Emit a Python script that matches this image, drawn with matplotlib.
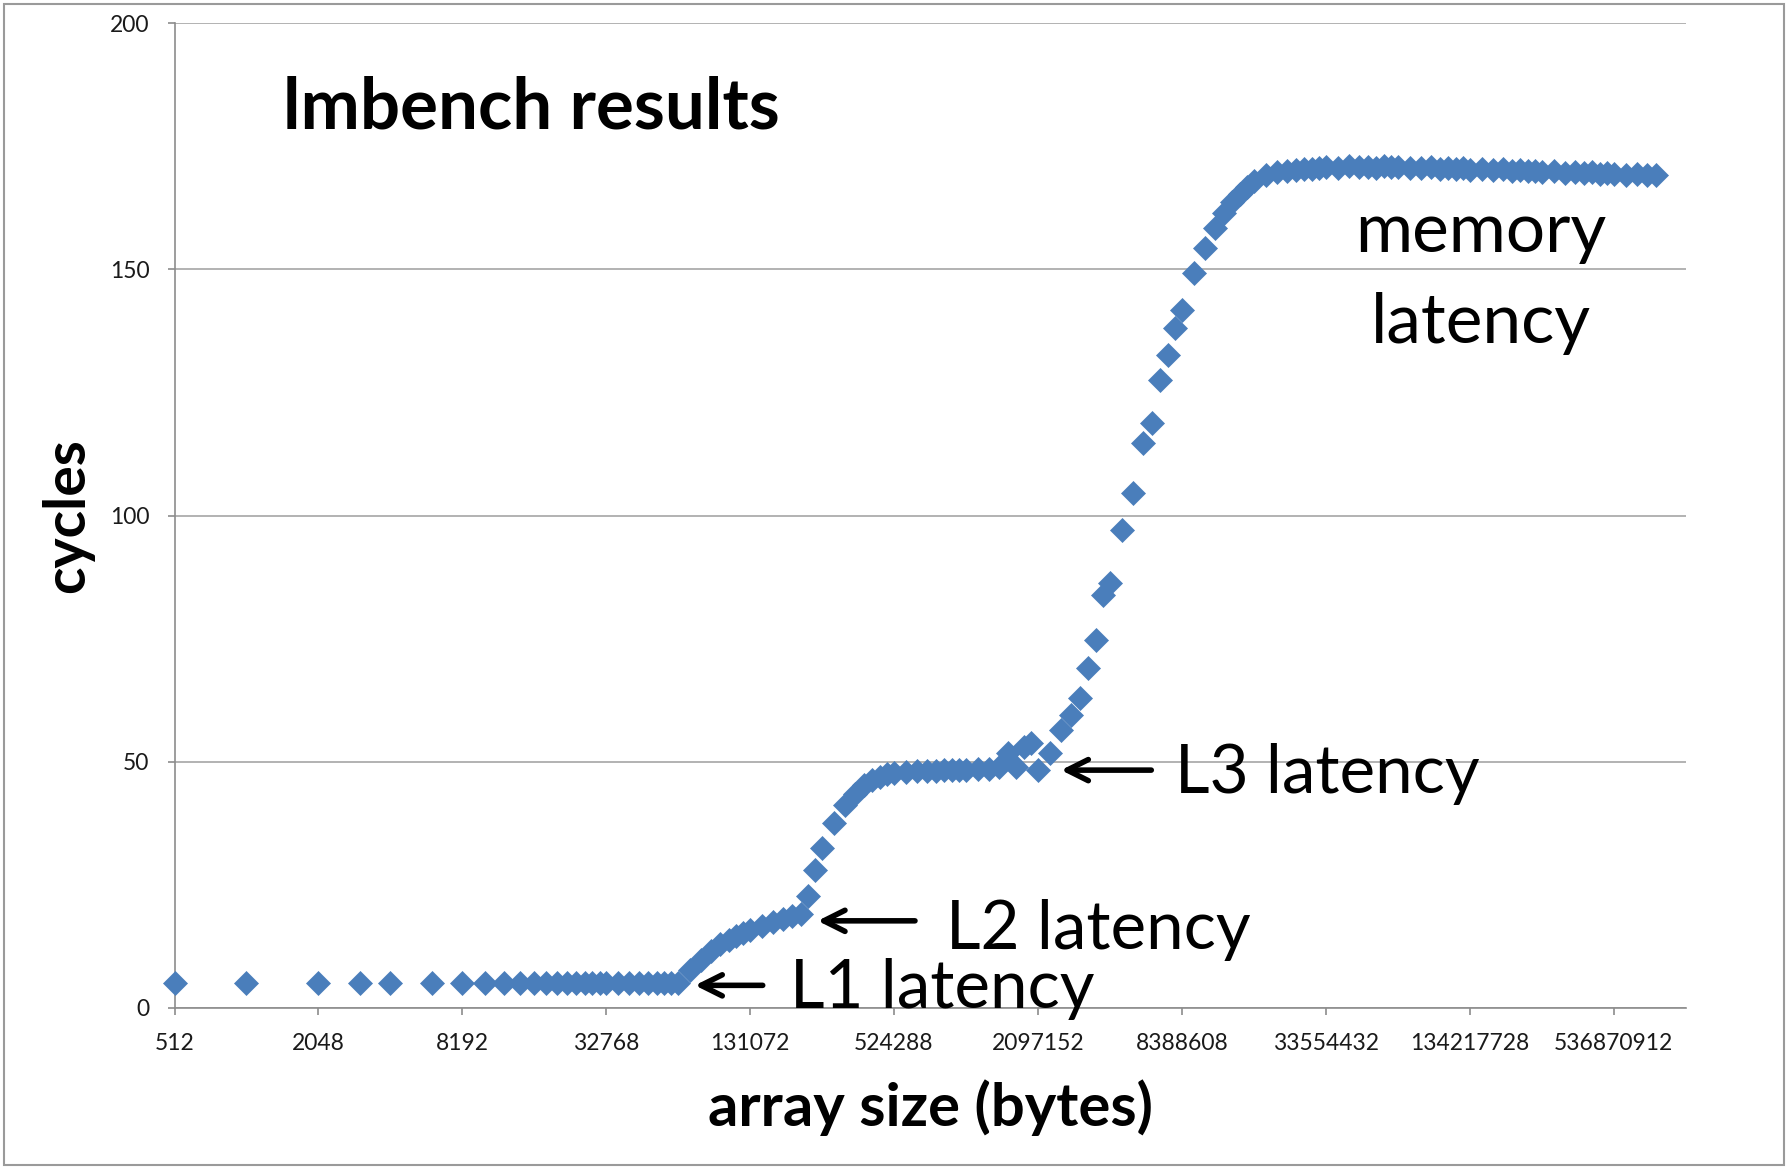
import matplotlib
matplotlib.use('Agg')
import matplotlib.pyplot as plt
from matplotlib.patches import Rectangle
from matplotlib.ticker import NullLocator

plt.rcParams['font.family'] = ['Lato', 'DejaVu Sans']

# array sizes in KB (lmbench lat_mem_rd steps), one row per octave
sizes_kb = [
    0.5, 1, 2, 3, 4, 6, 8, 10, 12, 14, 16, 18, 20, 22, 24, 26, 28, 30,
    32, 36, 40, 44, 48, 52, 56, 60,
    64, 72, 80, 88, 96, 104, 112, 120,
    128, 144, 160, 176, 192, 208, 224, 240,
    256, 288, 320, 352, 384, 416, 448, 480,
    512, 576, 640, 704, 768, 832, 896, 960,
    1024, 1152, 1280, 1408, 1536, 1664, 1792, 1920,
    2048, 2304, 2560, 2816, 3072, 3328, 3584, 3840,
    4096, 4608, 5120, 5632, 6144, 6656, 7168, 7680,
    8192, 9216, 10240, 11264, 12288, 13312, 14336, 15360,
    16384, 18432, 20480, 22528, 24576, 26624, 28672, 30720,
    32768, 36864, 40960, 45056, 49152, 53248, 57344, 61440,
    65536, 73728, 81920, 90112, 98304, 106496, 114688, 122880,
    131072, 147456, 163840, 180224, 196608, 212992, 229376, 245760,
    262144, 294912, 327680, 360448, 393216, 425984, 458752, 491520,
    524288, 589824, 655360, 720896, 786432,
]

# measured latency (cycles), same rows as sizes_kb
cycles = [
    5.0, 5.0, 5.0, 5.0, 5.0, 5.0, 5.0, 5.0, 5.0, 5.0, 5.0, 5.0, 5.0, 5.0, 5.0, 5.0, 5.0, 5.0,
    5.0, 5.0, 5.0, 5.0, 5.0, 5.0, 5.0, 5.0,
    5.0, 7.7, 9.8, 11.6, 12.9, 13.9, 14.7, 15.3,
    15.8, 16.7, 17.5, 18.1, 18.6, 19.0, 22.8, 28.0,
    32.5, 37.5, 41.2, 43.5, 45.2, 46.3, 47.0, 47.5,
    47.8, 48.0, 48.1, 48.2, 48.2, 48.3, 48.3, 48.3,
    48.4, 48.5, 48.6, 49.0, 51.8, 49.0, 53.0, 53.8,
    48.3, 51.8, 56.4, 59.5, 62.9, 69.0, 74.7, 83.9,
    86.3, 97.0, 104.6, 114.7, 118.8, 127.5, 132.6, 138.0,
    141.7, 149.2, 154.3, 158.4, 161.4, 163.6, 165.3, 166.8,
    167.9, 169.1, 169.7, 170.0, 170.2, 170.3, 170.4, 170.5,
    170.8, 170.6, 170.9, 170.7, 170.8, 170.6, 170.9, 170.7,
    170.8, 170.6, 170.5, 170.7, 170.4, 170.6, 170.3, 170.5,
    170.2, 170.4, 170.1, 170.3, 170.0, 170.2, 169.9, 170.0,
    169.8, 169.9, 169.6, 169.8, 169.5, 169.7, 169.4, 169.5,
    169.4, 169.2, 169.4, 169.1, 169.2,
]

x_ticks = [512, 2048, 8192, 32768, 131072, 524288, 2097152, 8388608,
           33554432, 134217728, 536870912]
y_ticks = [0, 50, 100, 150, 200]

blue = '#4a7ebb'
grid_gray = '#a6a6a6'

fig = plt.figure(figsize=(17.88, 11.69), dpi=100)
ax = fig.add_axes([174.5 / 1788, 1 - 1008 / 1169, 1511 / 1788, 985 / 1169])

sizes = [s * 1024 for s in sizes_kb]
ax.plot(sizes, cycles, linestyle='none', marker='D', markersize=12.5,
        color=blue, markeredgecolor=blue, markeredgewidth=0.5, clip_on=False, zorder=3)

ax.set_xscale('log', base=2)
ax.set_xlim(512, 2 ** 30)
ax.set_ylim(0, 200)
ax.set_xticks(x_ticks)
ax.set_xticklabels([str(t) for t in x_ticks])
ax.xaxis.set_minor_locator(NullLocator())
ax.set_yticks(y_ticks)

ax.yaxis.grid(True, color=grid_gray, linewidth=1.2)
ax.set_axisbelow(True)
for side in ['top', 'right']:
    ax.spines[side].set_visible(False)
for side in ['left', 'bottom']:
    ax.spines[side].set_color('#8c8c8c')
    ax.spines[side].set_linewidth(1.2)
ax.tick_params(axis='both', colors='#8c8c8c', length=5, width=1.2,
               labelsize=16.5, labelcolor='#1a1a1a')
ax.tick_params(axis='y', pad=13)
ax.tick_params(axis='x', pad=13)

ax.set_xlabel('array size (bytes)', fontsize=43, fontweight='bold', va='center')
ax.xaxis.set_label_coords(0.5, -0.1015)
ax.set_ylabel('cycles', fontsize=41, fontweight='bold', va='center')
ax.yaxis.set_label_coords(-0.0705, 0.4995)

ax.text(0.0718, 0.893, 'lmbench results', transform=ax.transAxes,
        fontsize=51, fontweight='bold', ha='left', va='baseline')

arrow = dict(arrowstyle='->', lw=4, color='black', mutation_scale=38)
ax.annotate('', xy=(75000, 4.6), xytext=(152000, 4.6), arrowprops=arrow)
ax.annotate('', xy=(244600, 17.7), xytext=(659000, 17.7), arrowprops=arrow)
ax.annotate('', xy=(2550000, 48.3), xytext=(6420000, 48.3), arrowprops=arrow)

note = dict(fontsize=48.5, ha='left', va='baseline')
ax.text(192700, 0.0, 'L1 latency', **note)
ax.text(864000, 12.0, 'L2 latency', **note)
ax.text(7840000, 43.7, 'L3 latency', **note)
ax.text(150000000, 153.5, 'memory', fontsize=50, ha='center', va='baseline')
ax.text(150000000, 135.0, 'latency', fontsize=50, ha='center', va='baseline')

fig.patches.append(Rectangle((0.002, 0.003), 0.996, 0.994, transform=fig.transFigure,
                             fill=False, edgecolor='#9a9a9a', linewidth=1.5))

fig.savefig('out.png', dpi=100)
